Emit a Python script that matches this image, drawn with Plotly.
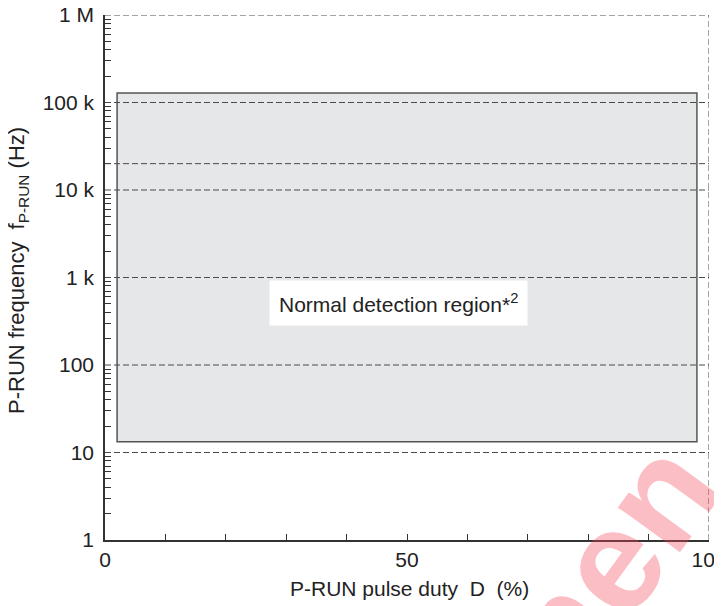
import math
import plotly.graph_objects as go

# ---- data ----
duty_range = [0, 100]
freq_range = [1, 1_000_000]
region_duty = [2, 98]          # % duty bounds of the normal region
region_freq = [13.3, 128_000]  # Hz bounds of the normal region
grid_freqs = [10, 100, 1_000, 10_000, 100_000]
extra_line_freq = 20_000
y_tickvals = [1, 10, 100, 1_000, 10_000, 100_000, 1_000_000]
y_ticktext = ["1", "10", "100", "1 k", "10 k", "100 k", "1 M"]
x_tickvals = [0, 50, 100]
x_minor = [10, 20, 30, 40, 50, 60, 70, 80, 90]
y_minor = [m * 10 ** d for d in range(6) for m in range(2, 10)]
region_label = "Normal detection region*<sup>2</sup>"
region_label_freq = 510
x_title = "P-RUN pulse duty  D  (%)"
y_title = "P-RUN frequency  f<sub>P-RUN</sub> (Hz)"
watermark = "men"

FONT = "Liberation Sans, Arial, sans-serif"
DASH = "6px,3px"
LINE = "#4a4a4a"

OFF = 8  # page body margin
W, H = 722 - OFF, 606 - OFF
ml, mr, mt, mb = 105 - OFF, 13, 15 - OFF, 66
pw, ph = W - ml - mr, H - mt - mb


def px_x(px):  # page pixel -> paper
    return (px - OFF - ml) / pw


def px_y(py):
    return (H - mb - (py - OFF)) / ph


fig = go.Figure()
fig.add_trace(go.Scatter(x=duty_range, y=freq_range, mode="markers",
                         marker=dict(opacity=0), hoverinfo="skip", showlegend=False))

shapes = []
shapes.append(dict(type="rect", xref="x", yref="y",
                   x0=region_duty[0], x1=region_duty[1], y0=region_freq[0], y1=region_freq[1],
                   fillcolor="#E6E7E9", line=dict(color="#555", width=1.5), layer="below"))
for f in grid_freqs:
    shapes.append(dict(type="line", xref="x", yref="y", x0=duty_range[0], x1=duty_range[1],
                       y0=f, y1=f, line=dict(color=LINE, width=1, dash=DASH)))
shapes.append(dict(type="line", xref="x", yref="y", x0=duty_range[0], x1=duty_range[1],
                   y0=freq_range[1], y1=freq_range[1], line=dict(color=LINE, width=1, dash=DASH)))
shapes.append(dict(type="line", xref="x", yref="y", x0=duty_range[1], x1=duty_range[1],
                   y0=freq_range[0], y1=freq_range[1], line=dict(color=LINE, width=1, dash=DASH)))
shapes.append(dict(type="line", xref="x", yref="y", x0=duty_range[0], x1=104,
                   y0=extra_line_freq, y1=extra_line_freq, line=dict(color=LINE, width=1, dash=DASH)))

annotations = [
    dict(x=50, y=math.log10(region_label_freq), xref="x", yref="y", text=region_label,
         showarrow=False, xanchor="center", yanchor="middle",
         font=dict(family=FONT, size=21, color="#222"), bgcolor="white",
         borderpad=9, xshift=-9),
    dict(x=1.0, y=math.log10(80_000), xref="paper", yref="y", text="A", showarrow=False,
         xanchor="left", yanchor="middle", xshift=8,
         font=dict(family=FONT, size=21, color="#222")),
    dict(x=px_x(18), y=px_y(271), xref="paper", yref="paper", text=y_title,
         showarrow=False, textangle=-90, xanchor="center", yanchor="middle",
         font=dict(family=FONT, size=22, color="#222")),
    dict(x=px_x(409), y=px_y(588), xref="paper", yref="paper", text=x_title,
         showarrow=False, xanchor="center", yanchor="middle",
         font=dict(family=FONT, size=21, color="#222")),
    dict(x=px_x(598), y=px_y(580), xref="paper", yref="paper", text=f"<b>{watermark}</b>",
         showarrow=False, textangle=-54, xanchor="center", yanchor="middle",
         font=dict(family=FONT, size=145, color="rgba(240,70,85,0.35)")),
]

fig.update_layout(
    width=W, height=H,
    margin=dict(l=ml, r=mr, t=mt, b=mb, autoexpand=False),
    paper_bgcolor="white", plot_bgcolor="white",
    shapes=shapes, annotations=annotations,
    font=dict(family=FONT, size=21, color="#222"),
    showlegend=False,
    xaxis=dict(range=duty_range, tickvals=x_tickvals, ticks="", showgrid=False,
               zeroline=False, showline=True, linecolor="#333", linewidth=1.5,
               automargin=False, tickfont=dict(size=21), ticklabeloverflow="allow",
               minor=dict(tickmode="array", tickvals=x_minor, ticks="inside",
                          ticklen=6, tickcolor="#333", showgrid=False)),
    yaxis=dict(type="log", range=[0, 6], tickvals=y_tickvals, ticktext=y_ticktext,
               ticks="", showgrid=False, zeroline=False, showline=True,
               linecolor="#333", linewidth=1.5, tickfont=dict(size=21),
               automargin=False, ticklabelstandoff=5, ticklabeloverflow="allow",
               minor=dict(tickmode="array", tickvals=y_minor, ticks="inside",
                          ticklen=6, tickcolor="#333", showgrid=False)),
)

fig.write_html("out.html")
